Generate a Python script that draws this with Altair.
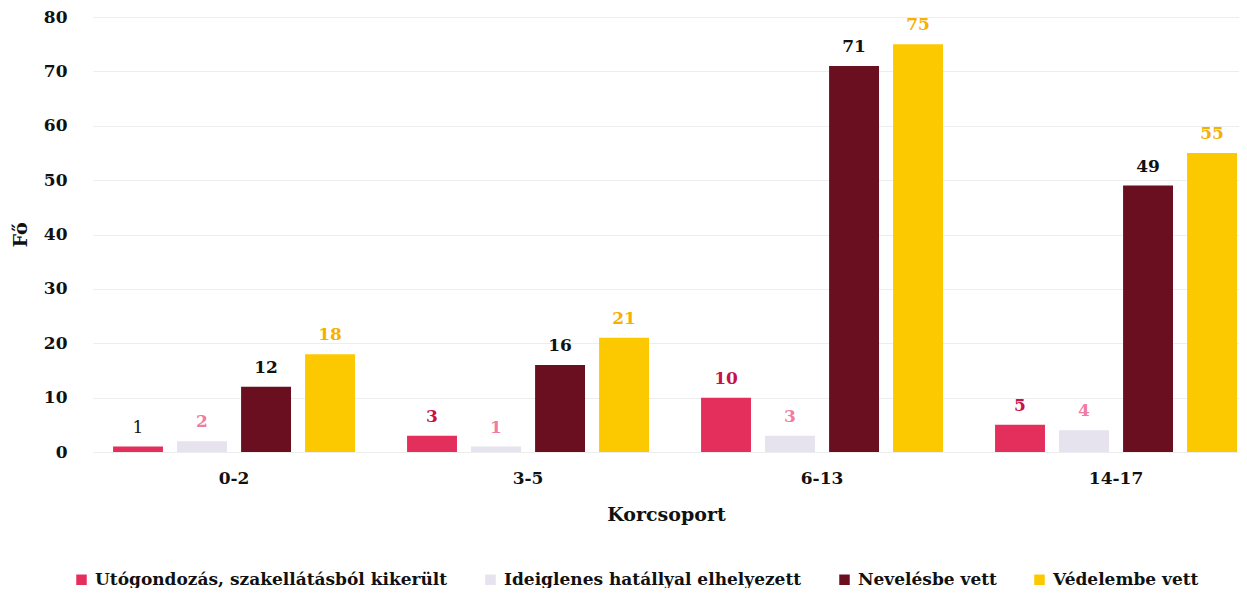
import altair as alt
import pandas as pd

groups = ["0-2", "3-5", "6-13", "14-17"]
series = [
    "Utógondozás, szakellátásból kikerült",
    "Ideiglenes hatállyal elhelyezett",
    "Nevelésbe vett",
    "Védelembe vett",
]
utogondozas = [1, 3, 10, 5]
ideiglenes = [2, 1, 3, 4]
neveles = [12, 16, 71, 49]
vedelem = [18, 21, 75, 55]

values = [utogondozas, ideiglenes, neveles, vedelem]
rows = []
for s, vals in zip(series, values):
    for g, v in zip(groups, vals):
        rows.append({"Korcsoport": g, "Sorozat": s, "Fő": v})
df = pd.DataFrame(rows)

bar_colors = ["#e42f5c", "#e6e2ee", "#6a0f20", "#fcc800"]
label_colors = ["#c8104a", "#f07ca0", "#111111", "#f5b000"]
FONT = "DejaVu Serif"

x_enc = alt.X(
    "Korcsoport:N",
    sort=groups,
    title="Korcsoport",
    scale=alt.Scale(paddingInner=0.177, paddingOuter=0.0375, align=0.91),
    axis=alt.Axis(
        labelAngle=0, labelFontSize=17, labelFontWeight="bold", labelFont=FONT,
        labelColor="#111111", labelPadding=18, ticks=False, domain=False,
        titleFontSize=19, titleFont=FONT, titleFontWeight="bold",
        titleColor="#111111", titlePadding=19, grid=False,
    ),
)
xo_enc = alt.XOffset("Sorozat:N", sort=series,
                     scale=alt.Scale(paddingInner=0.22, paddingOuter=0))
y_enc = alt.Y(
    "Fő:Q",
    title="Fő",
    scale=alt.Scale(domain=[0, 80], nice=False),
    axis=alt.Axis(
        values=list(range(0, 81, 10)), labelFontSize=17, labelFontWeight="bold",
        labelFont=FONT, labelColor="#111111", labelPadding=26, ticks=False,
        domain=False, gridColor="#ededed", gridWidth=1,
        titleFontSize=19, titleFont=FONT, titleFontWeight="bold",
        titleColor="#111111", titlePadding=13,
    ),
)

base = alt.Chart(df)

bars = base.mark_bar().encode(
    x=x_enc,
    xOffset=xo_enc,
    y=y_enc,
    color=alt.Color(
        "Sorozat:N",
        sort=series,
        scale=alt.Scale(domain=series, range=bar_colors),
        legend=alt.Legend(
            title=None, orient="none", direction="horizontal",
            legendX=-20, legendY=554, symbolType="square", symbolSize=110,
            labelFont=FONT, labelFontSize=17, labelFontWeight="bold",
            labelColor="#111111", columnPadding=34, symbolStrokeWidth=0,
            labelOffset=5, labelLimit=0,
        ),
    ),
)

is_special = "datum['Korcsoport'] == '0-2' && datum['Sorozat'] == 'Utógondozás, szakellátásból kikerült'"

labels = base.mark_text(
    baseline="bottom", dy=-10, font=FONT, fontSize=17, fontWeight="bold"
).encode(
    x=alt.X("Korcsoport:N", sort=groups),
    xOffset=alt.XOffset("Sorozat:N", sort=series),
    y="Fő:Q",
    text="Fő:Q",
    color=alt.Color("Sorozat:N", scale=alt.Scale(domain=series, range=label_colors), legend=None),
).transform_filter("!(" + is_special + ")")

label_special = base.mark_text(
    baseline="bottom", dy=-10, font=FONT, fontSize=17, fontWeight="normal", color="#111111"
).encode(
    x=alt.X("Korcsoport:N", sort=groups),
    xOffset=alt.XOffset("Sorozat:N", sort=series),
    y="Fő:Q",
    text="Fő:Q",
).transform_filter(is_special)

chart = (
    alt.layer(bars, labels, label_special)
    .resolve_scale(color="independent")
    .properties(
        width=1146, height=435,
        padding={"left": 3, "top": 0, "right": 0, "bottom": 0},
        background="white",
    )
    .configure_view(stroke=None)
)

chart.save("out.html", embed_options={"renderer": "svg", "actions": False})
